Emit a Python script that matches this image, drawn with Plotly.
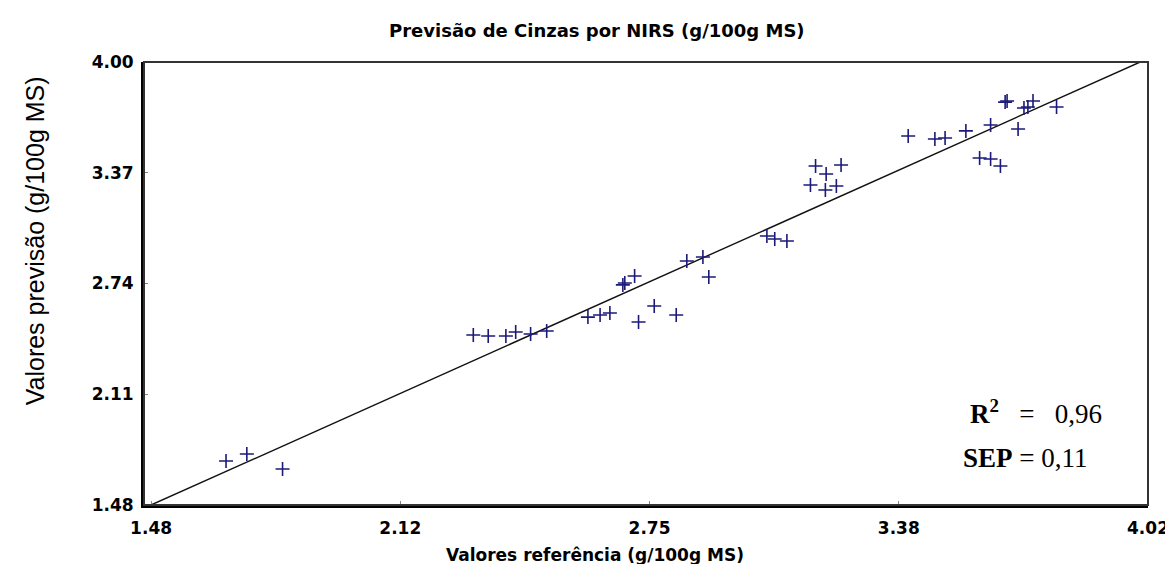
import plotly.graph_objects as go

# valores (g/100g MS)
referencia = [1.671, 1.724, 1.815, 2.301, 2.339, 2.384, 2.409, 2.447, 2.488, 2.593,
              2.624, 2.649, 2.682, 2.687, 2.712, 2.722, 2.762, 2.818, 2.845, 2.886,
              2.901, 3.049, 3.069, 3.100, 3.160, 3.173, 3.198, 3.200, 3.226, 3.238,
              3.409, 3.477, 3.503, 3.556, 3.591, 3.619, 3.619, 3.644, 3.656, 3.661,
              3.689, 3.704, 3.714, 3.727, 3.787]
previsao = [1.730, 1.770, 1.685, 2.447, 2.441, 2.441, 2.464, 2.453, 2.470, 2.549,
            2.561, 2.572, 2.732, 2.743, 2.783, 2.521, 2.612, 2.561, 2.868, 2.891,
            2.777, 3.010, 2.993, 2.982, 3.300, 3.408, 3.272, 3.363, 3.295, 3.414,
            3.579, 3.562, 3.568, 3.608, 3.454, 3.642, 3.448, 3.408, 3.772, 3.778,
            3.619, 3.738, 3.744, 3.778, 3.744]

linha_x = [1.48, 4.00]
linha_y = [1.48, 4.00]

x_ticks = [1.48, 2.115, 2.75, 3.385, 4.02]
x_labels = ['1.48', '2.12', '2.75', '3.38', '4.02']
y_ticks = [1.48, 2.11, 2.74, 3.37, 4.00]
y_labels = ['1.48', '2.11', '2.74', '3.37', '4.00']

bold_font = dict(family='DejaVu Sans', size=17, color='black', weight='bold')

fig = go.Figure()

fig.add_trace(go.Scatter(
    x=linha_x, y=linha_y,
    mode='lines',
    line=dict(color='#111111', width=1.4),
    hoverinfo='skip'
))

fig.add_trace(go.Scatter(
    x=referencia, y=previsao,
    mode='markers',
    marker=dict(symbol='cross-thin', size=10,
                line=dict(color='#1c1a78', width=1.6)),
))

fig.update_layout(
    width=1173,
    height=564,
    showlegend=False,
    plot_bgcolor='white',
    paper_bgcolor='white',
    margin=dict(l=136, r=21, t=54, b=67),
    title=dict(
        text='Previsão de Cinzas por NIRS (g/100g MS)',
        font=dict(family='DejaVu Sans', size=18, color='black', weight='bold'),
        xref='paper', x=0.451, xanchor='center',
        yref='container', y=1 - 23 / 564, yanchor='middle'
    ),
    xaxis=dict(
        range=[1.462, 4.02],
        tickvals=x_ticks, ticktext=x_labels,
        tickfont=bold_font,
        showgrid=False, zeroline=False,
        showline=True, linecolor='black', linewidth=3,
        ticks='inside', ticklen=4, tickcolor='#888888', tickwidth=1,
        ticklabelstandoff=6
    ),
    yaxis=dict(
        range=[1.48, 4.00],
        tickvals=y_ticks, ticktext=y_labels,
        tickfont=bold_font,
        showgrid=False, zeroline=False,
        showline=True, linecolor='black', linewidth=3,
        ticks='inside', ticklen=4, tickcolor='#888888', tickwidth=1,
        ticklabelstandoff=4
    ),
    shapes=[dict(type='rect', xref='paper', yref='paper', x0=0, y0=0, x1=1, y1=1,
                 line=dict(color='#333333', width=2), layer='above')],
)

# títulos dos eixos
fig.add_annotation(
    text='Valores referência (g/100g MS)',
    xref='paper', yref='paper', x=0.449, y=-(547 - 497) / 443,
    xanchor='center', yanchor='middle', showarrow=False,
    font=dict(family='DejaVu Sans', size=17, color='black', weight='bold')
)
fig.add_annotation(
    text='Valores previsão (g/100g MS)',
    xref='paper', yref='paper', x=(26 - 136) / 1016, y=(497 - 233) / 443,
    xanchor='center', yanchor='middle', textangle=-90, showarrow=False,
    font=dict(family='Liberation Sans', size=25, color='black')
)

# estatísticas
fig.add_annotation(
    text='<b>R<sup>2</sup></b>\u00a0\u00a0\u00a0=\u00a0\u00a0\u00a00,96',
    xref='paper', yref='paper', x=(970 - 136) / 1016, y=(497 - 404) / 443,
    xanchor='left', yanchor='middle', showarrow=False,
    font=dict(family='Liberation Serif', size=27, color='black')
)
fig.add_annotation(
    text='<b>SEP</b> = 0,11',
    xref='paper', yref='paper', x=(963 - 136) / 1016, y=(497 - 450) / 443,
    xanchor='left', yanchor='middle', showarrow=False,
    font=dict(family='Liberation Serif', size=27, color='black')
)

fig.write_html("out.html")
